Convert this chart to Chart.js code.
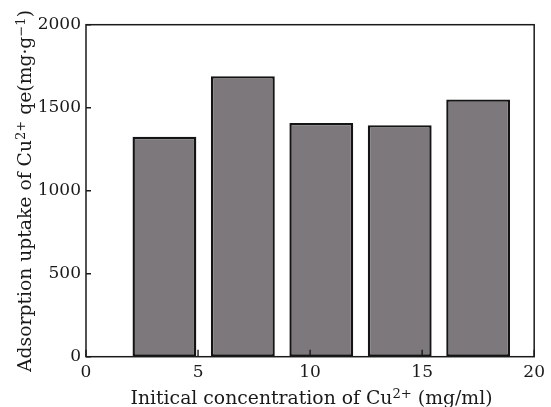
<!DOCTYPE html>
<html>
<head>
<meta charset="utf-8">
<script src="https://cdn.jsdelivr.net/npm/chart.js@4/dist/chart.umd.min.js"></script>
<style>
html,body{margin:0;padding:0;background:#fff;}
#wrap{width:551px;height:407px;position:relative;}
</style>
</head>
<body>
<div id="wrap"><canvas id="c" width="551" height="407"></canvas></div>
<script>
// Data
const concentrations = [3.5, 7.0, 10.5, 14.0, 17.5];
const uptake = [1325, 1690, 1408, 1395, 1550];
const xTicks = [0, 5, 10, 15, 20];
const yTicks = [0, 500, 1000, 1500, 2000];
const xTitleParts = [["Initical concentration of Cu", false], ["2+", true], [" (mg/ml)", false]];
const yTitleParts = [["Adsorption uptake of Cu", false], ["2+", true], [" qe(mg\u00B7g", false], ["\u22121", true], [")", false]];

const FONT = "'DejaVu Serif', serif";
const FS = 17;
const TS = 18;

function drawParts(ctx, parts, size, target) {
  let total = 0;
  const sub = size * 0.7;
  parts.forEach(([t, sup]) => {
    ctx.font = (sup ? sub : size) + "px " + FONT;
    total += ctx.measureText(t).width;
  });
  const k = target / total;
  ctx.scale(k, 1);
  let x = -total / 2;
  parts.forEach(([t, sup]) => {
    ctx.font = (sup ? sub : size) + "px " + FONT;
    ctx.fillText(t, x, sup ? -size * 0.36 : 0);
    x += ctx.measureText(t).width;
  });
}

const framePlugin = {
  id: 'frame',
  afterDatasetsDraw(chart) {
    const {ctx, chartArea: a, scales} = chart;
    ctx.save();
    ctx.strokeStyle = '#1a1a1a';
    ctx.lineWidth = 1.4;
    ctx.beginPath();
    xTicks.forEach(v => {
      const px = scales.x.getPixelForValue(v);
      ctx.moveTo(px, a.bottom); ctx.lineTo(px, a.bottom - 7);
    });
    yTicks.forEach(v => {
      const py = scales.y.getPixelForValue(v);
      ctx.moveTo(a.left, py); ctx.lineTo(a.left + 5, py);
    });
    ctx.stroke();
    ctx.lineWidth = 1.5;
    ctx.strokeRect(a.left, a.top, a.right - a.left, a.bottom - a.top);
    ctx.fillStyle = '#1a1a1a';
    ctx.textBaseline = 'alphabetic';
    ctx.textAlign = 'left';
    ctx.save();
    ctx.translate(311.5, 404);
    drawParts(ctx, xTitleParts, TS, 362);
    ctx.restore();
    ctx.save();
    ctx.translate(31, 191);
    ctx.rotate(-Math.PI / 2);
    drawParts(ctx, yTitleParts, TS, 362);
    ctx.restore();
    ctx.restore();
  }
};

new Chart(document.getElementById('c'), {
  type: 'bar',
  data: {
    datasets: [{
      data: concentrations.map((x, i) => ({x: x, y: uptake[i]})),
      backgroundColor: '#7d787b',
      borderColor: '#141414',
      borderWidth: 2.4,
      borderSkipped: false,
      categoryPercentage: 1,
      barPercentage: 0.814
    }]
  },
  options: {
    responsive: false,
    animation: false,
    devicePixelRatio: 1,
    layout: {padding: {left: 0, right: 12.3, top: 24.7, bottom: 0}},
    plugins: {legend: {display: false}, tooltip: {enabled: false}},
    scales: {
      x: {
        type: 'linear', min: 0, max: 20, offset: false,
        afterBuildTicks: s => { s.ticks = xTicks.map(v => ({value: v})); },
        afterFit: s => { s.height = 50.3; },
        grid: {display: false, drawTicks: false, offset: false},
        border: {display: false},
        ticks: {color: '#1a1a1a', font: {family: FONT, size: FS}, padding: 6, maxRotation: 0, autoSkip: false,
                callback: v => String(v)}
      },
      y: {
        min: 0, max: 2000,
        afterBuildTicks: s => { s.ticks = yTicks.map(v => ({value: v})); },
        afterFit: s => { s.width = 86; },
        grid: {display: false, drawTicks: false},
        border: {display: false},
        ticks: {color: '#1a1a1a', font: {family: FONT, size: FS}, padding: 5, callback: v => String(v)}
      }
    }
  },
  plugins: [framePlugin]
});
</script>
</body>
</html>
